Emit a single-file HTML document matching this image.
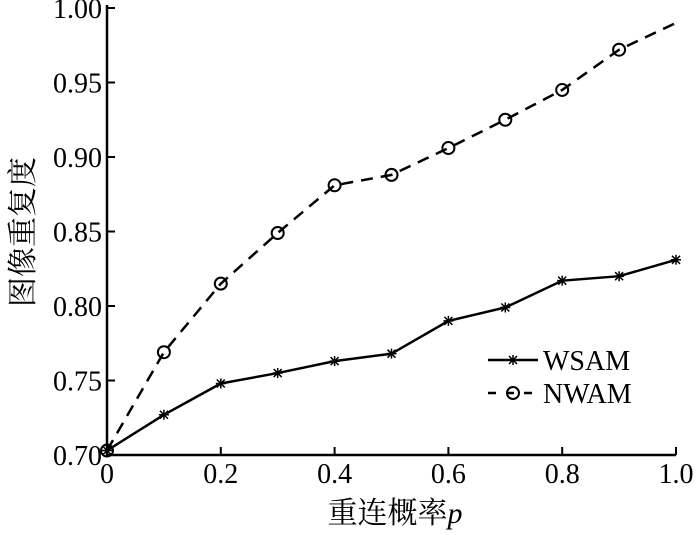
<!DOCTYPE html>
<html><head><meta charset="utf-8"><style>
body{margin:0;background:#fff}
svg text{font-family:"Liberation Serif","Noto Serif CJK SC",serif;fill:#000}
</style></head><body>
<svg width="700" height="530" id="c"></svg>
<script>
const xTicks=[0,0.2,0.4,0.6,0.8,1.0];
const xTickLabels=["0","0.2","0.4","0.6","0.8","1.0"];
const yTicks=[0.70,0.75,0.80,0.85,0.90,0.95,1.00];
const yTickLabels=["0.70","0.75","0.80","0.85","0.90","0.95","1.00"];
const pValues=[0,0.1,0.2,0.3,0.4,0.5,0.6,0.7,0.8,0.9,1.0];
const wsam=[0.703,0.727,0.748,0.755,0.763,0.768,0.790,0.799,0.817,0.820,0.831];
const nwam=[0.703,0.769,0.815,0.849,0.881,0.888,0.906,0.925,0.945,0.972,0.990];
const L=107,R=676,T=8,B=455;
const sx=v=>L+(v-0)/(1-0)*(R-L);
const sy=v=>B-(v-0.70)/(0.30)*(B-T);
const NS="http://www.w3.org/2000/svg";
const svg=document.getElementById('c');
function mk(t,a,p){const e=document.createElementNS(NS,t);for(const k in a)e.setAttribute(k,a[k]);(p||svg).appendChild(e);return e;}
const ax=mk('path',{d:`M${L} ${T-3}V${B}H${R}`,fill:'none',stroke:'#000','stroke-width':2.5});


yTicks.forEach((v,i)=>{
 const y=sy(v);
 const t=mk('line',{x1:L,x2:L+8,y1:y,y2:y,stroke:'#000','stroke-width':2});
 
 
 const tx=mk('text',{x:L-5,y:y+10,'text-anchor':'end','font-size':28});
 tx.textContent=yTickLabels[i];
 
 
});
xTicks.forEach((v,i)=>{
 const x=sx(v);
 const t=mk('line',{x1:x,x2:x,y1:B,y2:B-8,stroke:'#000','stroke-width':2});
 
 
 const tx=mk('text',{x:x,y:B+28,'text-anchor':'middle','font-size':28});
 tx.textContent=xTickLabels[i];
 
 
});
const xt=mk('text',{x:395,y:523,'text-anchor':'middle','font-size':30});
xt.innerHTML='重连概率<tspan font-style="italic">p</tspan>';


const yt=mk('text',{x:0,y:0,'text-anchor':'middle','font-size':30,transform:'translate(33,232) rotate(-90)'});
yt.textContent='图像重复度';


function star(x,y,p){mk('path',{d:`M${x-5} ${y}H${x+5}M${x} ${y-5}V${y+5}M${x-4} ${y-4}L${x+4} ${y+4}M${x-4} ${y+4}L${x+4} ${y-4}`,stroke:'#000','stroke-width':1.5},p);}
function circ(x,y,p){mk('circle',{cx:x,cy:y,r:6,fill:'none',stroke:'#000','stroke-width':2},p);}
const g1=mk('g',{});


mk('polyline',{points:pValues.map((p,i)=>sx(p)+','+sy(wsam[i])).join(' '),fill:'none',stroke:'#000','stroke-width':2.5},g1);
pValues.forEach((p,i)=>star(sx(p),sy(wsam[i]),g1));
const g2=mk('g',{});


mk('polyline',{points:pValues.map((p,i)=>sx(p)+','+sy(nwam[i])).join(' '),fill:'none',stroke:'#000','stroke-width':2.5,'stroke-dasharray':'12 8'},g2);
pValues.forEach((p,i)=>{if(i<pValues.length-1)circ(sx(p),sy(nwam[i]),g2);});
const lg=mk('g',{});


mk('line',{x1:488,x2:538,y1:360,y2:360,stroke:'#000','stroke-width':2.5},lg);
star(513,360,lg);
const l1=mk('text',{x:543,y:370,'font-size':28},lg);l1.textContent='WSAM';
mk('line',{x1:488,x2:538,y1:393,y2:393,stroke:'#000','stroke-width':2.5,'stroke-dasharray':'8 10'},lg);
circ(513,393,lg);
const l2=mk('text',{x:543,y:403,'font-size':28},lg);l2.textContent='NWAM';
</script>
</body></html>
